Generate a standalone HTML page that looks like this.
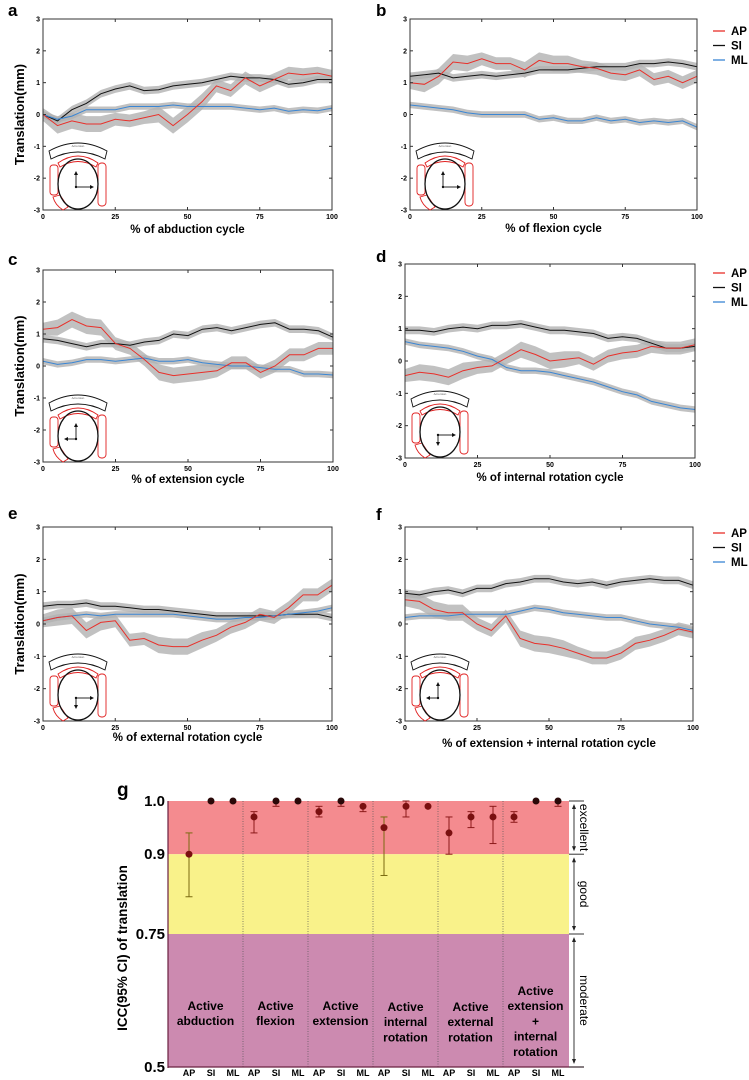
<!DOCTYPE html>
<html><head><meta charset="utf-8"><style>
html,body{margin:0;padding:0;background:#fff;width:749px;height:1080px;overflow:hidden}
svg{display:block;font-family:"Liberation Sans",Arial,sans-serif}
</style></head><body>
<svg id="fig" width="749" height="1080" viewBox="0 0 749 1080"></svg>
<script>
const pct = [0,5,10,15,20,25,30,35,40,45,50,55,60,65,70,75,80,85,90,95,100];
const yTicks = [3,2,1,0,-1,-2,-3];
const xTicks = [0,25,50,75,100];
// panel a (abduction)
const aAP = [0,-0.35,-0.2,-0.3,-0.3,-0.15,-0.2,-0.1,0,-0.35,0,0.4,0.9,0.75,1.15,0.9,1.1,1.3,1.25,1.3,1.2];
const aSI = [0,-0.2,0.15,0.35,0.65,0.8,0.9,0.75,0.78,0.9,0.95,1.0,1.1,1.2,1.15,1.15,1.1,0.95,1.0,1.1,1.1];
const aML = [0,-0.15,-0.05,0.15,0.15,0.15,0.25,0.25,0.25,0.3,0.25,0.25,0.25,0.25,0.2,0.15,0.2,0.1,0.15,0.12,0.2];
// panel b (flexion)
const bAP = [1.0,0.95,1.2,1.65,1.6,1.75,1.6,1.6,1.4,1.7,1.6,1.6,1.5,1.45,1.3,1.25,1.4,1.1,1.2,1.0,1.2];
const bSI = [1.2,1.25,1.3,1.15,1.2,1.25,1.2,1.25,1.3,1.4,1.4,1.4,1.45,1.5,1.5,1.5,1.6,1.6,1.65,1.6,1.5];
const bML = [0.3,0.25,0.2,0.15,0.05,0,0,0,0,-0.15,-0.1,-0.2,-0.2,-0.1,-0.2,-0.15,-0.25,-0.2,-0.25,-0.2,-0.4];
// panel c (extension)
const cAP = [1.15,1.2,1.45,1.25,1.2,0.7,0.55,0.2,-0.2,-0.3,-0.25,-0.2,-0.15,0.1,0.1,-0.2,0.0,0.35,0.35,0.55,0.55];
const cSI = [0.85,0.8,0.7,0.6,0.7,0.7,0.65,0.75,0.8,1.0,0.95,1.15,1.2,1.1,1.2,1.3,1.35,1.15,1.15,1.1,0.9];
const cML = [0.15,0.05,0.1,0.2,0.2,0.15,0.2,0.25,0.15,0.15,0.2,0.1,0.05,0.0,0.0,-0.05,-0.1,-0.1,-0.25,-0.25,-0.28];
// panel d (internal rotation)
const dAP = [-0.45,-0.35,-0.4,-0.5,-0.3,-0.2,-0.15,0.1,0.35,0.2,0.0,0.05,0.1,-0.1,0.15,0.25,0.3,0.45,0.4,0.4,0.5];
const dSI = [0.95,0.95,0.9,1.0,1.05,1.0,1.1,1.1,1.15,1.05,0.95,0.95,0.9,0.85,0.7,0.75,0.7,0.55,0.4,0.4,0.45];
const dML = [0.6,0.5,0.45,0.4,0.3,0.15,0.05,-0.2,-0.3,-0.3,-0.35,-0.45,-0.55,-0.65,-0.8,-0.95,-1.05,-1.25,-1.35,-1.45,-1.5];
// panel e (external rotation)
const eAP = [0.1,0.2,0.25,-0.2,0.05,0.1,-0.5,-0.45,-0.65,-0.7,-0.7,-0.5,-0.35,-0.1,0.05,0.3,0.2,0.5,0.9,0.9,1.2];
const eSI = [0.55,0.6,0.6,0.65,0.55,0.55,0.5,0.45,0.45,0.4,0.35,0.3,0.25,0.25,0.25,0.25,0.25,0.3,0.3,0.3,0.2];
const eML = [0.1,0.2,0.25,0.3,0.25,0.3,0.3,0.3,0.3,0.3,0.25,0.2,0.15,0.15,0.2,0.2,0.25,0.3,0.35,0.4,0.5];
// panel f (extension + internal rotation)
const fAP = [0.75,0.7,0.45,0.35,0.35,0.0,-0.2,0.25,-0.45,-0.6,-0.65,-0.75,-0.9,-1.05,-1.05,-0.9,-0.6,-0.5,-0.35,-0.15,-0.25];
const fSI = [0.95,0.9,1.0,1.05,0.95,1.1,1.1,1.25,1.3,1.4,1.4,1.3,1.25,1.3,1.2,1.3,1.35,1.4,1.35,1.35,1.2];
const fML = [0.2,0.25,0.25,0.25,0.3,0.3,0.3,0.3,0.4,0.5,0.45,0.35,0.3,0.25,0.2,0.2,0.1,0.0,-0.05,-0.1,-0.2];
// band half widths (SD)
const bandAP = [0.2,0.25,0.25,0.25,0.25,0.2,0.2,0.2,0.25,0.25,0.25,0.25,0.2,0.2,0.2,0.2,0.2,0.2,0.2,0.2,0.2];
const bandSI = [0.12,0.12,0.12,0.12,0.12,0.12,0.12,0.12,0.12,0.12,0.12,0.12,0.12,0.12,0.12,0.12,0.12,0.12,0.12,0.12,0.12];
const bandML = [0.1,0.1,0.1,0.1,0.1,0.1,0.1,0.1,0.1,0.1,0.1,0.1,0.1,0.1,0.1,0.1,0.1,0.1,0.1,0.1,0.1];
// panel g ICC
const gGroups = [["Active","abduction"],["Active","flexion"],["Active","extension"],["Active","internal","rotation"],["Active","external","rotation"],["Active","extension","+","internal","rotation"]];
const gAxes = ["AP","SI","ML"];
const iccMean = [0.90,1.0,1.0, 0.97,1.0,1.0, 0.98,1.0,0.99, 0.95,0.99,0.99, 0.94,0.97,0.97, 0.97,1.0,1.0];
const iccLo   = [0.82,1.0,1.0, 0.94,0.99,1.0, 0.97,0.99,0.98, 0.86,0.97,0.99, 0.90,0.95,0.92, 0.96,1.0,0.99];
const iccHi   = [0.94,1.0,1.0, 0.98,1.0,1.0, 0.99,1.0,0.99, 0.97,1.0,0.99, 0.97,0.98,0.99, 0.98,1.0,1.0];
const iccTicks = [1.0,0.9,0.75,0.5];
const iccTickLabels = ["1.0","0.9","0.75","0.5"];

const NS="http://www.w3.org/2000/svg";
const svg=document.getElementById('fig');
function mk(tag,attrs,parent){const e=document.createElementNS(NS,tag);for(const k in attrs)e.setAttribute(k,attrs[k]);(parent||svg).appendChild(e);return e;}
function txt(s,attrs,parent){const e=mk('text',attrs,parent);e.textContent=s;return e;}

const panels=[
 {id:'a',x0:43,x1:332,y0:19,y1:210,ap:aAP,si:aSI,ml:aML,title:'% of abduction cycle',ty:233,lab:[8,16],ylab:true,arrows:['u','r']},
 {id:'b',x0:410,x1:697,y0:19,y1:210,ap:bAP,si:bSI,ml:bML,title:'% of flexion cycle',ty:232,lab:[376,16],legend:[713,31],arrows:['u','r']},
 {id:'c',x0:43,x1:333,y0:270,y1:462,ap:cAP,si:cSI,ml:cML,title:'% of extension cycle',ty:483,lab:[8,265],ylab:true,arrows:['u','l']},
 {id:'d',x0:405,x1:695,y0:264,y1:458,ap:dAP,si:dSI,ml:dML,title:'% of internal rotation cycle',ty:481,lab:[376,262],legend:[713,273],arrows:['d','r']},
 {id:'e',x0:43,x1:332,y0:527,y1:721,ap:eAP,si:eSI,ml:eML,title:'% of external rotation cycle',ty:741,lab:[8,519],ylab:true,arrows:['d','r']},
 {id:'f',x0:405,x1:693,y0:527,y1:721,ap:fAP,si:fSI,ml:fML,title:'% of extension + internal rotation cycle',ty:747,lab:[376,520],legend:[713,533],arrows:['u','l']}
];

panels.forEach(p=>{
  const g=mk('g',{});
  
  
  const X=v=>p.x0+(v/100)*(p.x1-p.x0);
  const Y=v=>p.y0+(3-v)/6*(p.y1-p.y0);
  [[p.si,bandSI],[p.ap,bandAP],[p.ml,bandML]].forEach(([s,b],k)=>{
    let d='';
    pct.forEach((x,i)=>{d+=(i?'L':'M')+X(x).toFixed(1)+','+Y(s[i]+b[i]).toFixed(1);});
    for(let i=pct.length-1;i>=0;i--)d+='L'+X(pct[i]).toFixed(1)+','+Y(s[i]-b[i]).toFixed(1);
    const band=mk('path',{d:d+'Z',fill:'#b2b2b2','fill-opacity':'0.8',stroke:'none'},g);
    
    
  });
  [[p.si,'#111'],[p.ml,'#3a86d4'],[p.ap,'#e8302a']].forEach(([s,c],k)=>{
    const pts=pct.map((x,i)=>X(x).toFixed(1)+','+Y(s[i]).toFixed(1)).join(' ');
    const l=mk('polyline',{points:pts,fill:'none',stroke:c,'stroke-width':1},g);
    
    
  });
  const fr=mk('rect',{x:p.x0,y:p.y0,width:p.x1-p.x0,height:p.y1-p.y0,fill:'none',stroke:'#333','stroke-width':1},g);
  
  
  yTicks.forEach(t=>{
    mk('line',{x1:p.x0,x2:p.x0+3,y1:Y(t),y2:Y(t),stroke:'#333'},g);
    mk('line',{x1:p.x1,x2:p.x1-3,y1:Y(t),y2:Y(t),stroke:'#333'},g);
    const tl=txt(String(t),{x:p.x0-3,y:Y(t)+2.5,'font-size':7,'font-weight':'bold','text-anchor':'end'},g);
    
    
  });
  xTicks.forEach(t=>{
    mk('line',{x1:X(t),x2:X(t),y1:p.y1,y2:p.y1-3,stroke:'#333'},g);
    mk('line',{x1:X(t),x2:X(t),y1:p.y0,y2:p.y0+3,stroke:'#333'},g);
    const tl=txt(String(t),{x:X(t),y:p.y1+9,'font-size':7,'font-weight':'bold','text-anchor':'middle'},g);
    
    
  });
  const tt=txt(p.title,{x:(p.x0+p.x1)/2,y:p.ty,'font-size':11.5,'font-weight':'bold','text-anchor':'middle'},g);
  
  
  const pl=txt(p.id,{x:p.lab[0],y:p.lab[1],'font-size':17,'font-weight':'bold'},g);
  
  
  if(p.ylab){
    const yc=(p.y0+p.y1)/2;
    const yt=txt('Translation(mm)',{x:24,y:yc,'font-size':13,'font-weight':'bold','text-anchor':'middle',transform:'rotate(-90 24 '+yc+')'},g);
    
    
  }
  if(p.legend){
    [['AP','#e8302a'],['SI','#111'],['ML','#3a86d4']].forEach(([n,c],i)=>{
      const lg=mk('g',{},g);
      
      
      const yy=p.legend[1]+i*14.5;
      mk('line',{x1:p.legend[0],x2:p.legend[0]+12,y1:yy,y2:yy,stroke:c,'stroke-width':1.3},lg);
      txt(n,{x:p.legend[0]+18,y:yy+4,'font-size':11.5,'font-weight':'bold'},lg);
    });
  }
  const ig=mk('g',{transform:'translate('+(p.x0+6)+','+(p.y1-71)+')'},g);
  
  
  mk('path',{d:'M0,12 Q29,-4 58,12 L56,20 Q29,6 2,20 Z',fill:'#fff',stroke:'#111','stroke-width':0.9},ig);
  txt('Acromion',{x:29,y:8,'font-size':3,'text-anchor':'middle',fill:'#555'},ig);
  mk('path',{d:'M9,24 Q29,10 49,24 L47,28 Q29,17 11,28 Z',fill:'none',stroke:'#e02020','stroke-width':0.9},ig);
  mk('rect',{x:1,y:26,width:8,height:30,rx:3,fill:'none',stroke:'#e02020','stroke-width':0.9},ig);
  mk('rect',{x:49,y:24,width:8,height:43,rx:3.5,fill:'none',stroke:'#e02020','stroke-width':0.9},ig);
  mk('path',{d:'M4,58 L11,56 L19,68 L14,71 Q6,66 4,58 Z',fill:'none',stroke:'#e02020','stroke-width':0.9},ig);
  mk('ellipse',{cx:29,cy:45,rx:20,ry:25,fill:'none',stroke:'#111','stroke-width':1.3},ig);
  const cx=27,cy=48;
  mk('circle',{cx:cx,cy:cy,r:1.2,fill:'#111'},ig);
  p.arrows.forEach(a=>{
    const dx={u:0,d:0,l:-1,r:1}[a], dy={u:-1,d:1,l:0,r:0}[a];
    const L=a==='r'?16:(a==='l'?10:(a==='u'?14:9));
    const ex=cx+dx*L, ey=cy+dy*L;
    mk('line',{x1:cx,y1:cy,x2:ex,y2:ey,stroke:'#111','stroke-width':0.9},ig);
    const px=-dy,py=dx;
    mk('path',{d:`M${ex+dx*2},${ey+dy*2} L${ex-dx*2+px*2},${ey-dy*2+py*2} L${ex-dx*2-px*2},${ey-dy*2-py*2} Z`,fill:'#111'},ig);
  });
});

// ===== panel g =====
const gx0=168,gx1=569;
const GY=v=>801+(1-v)*532;
const GX=(i)=>178+Math.floor(i/3)*65+11+(i%3)*22;
const pg=mk('g',{});


[[1.0,0.9,'#f48b8f','excellent-zone'],[0.9,0.75,'#f9f28a','good-zone'],[0.75,0.5,'#cc8ab0','moderate-zone']].forEach(([a,b,c,n])=>{
  const r=mk('rect',{x:gx0,y:GY(a),width:gx1-gx0,height:GY(b)-GY(a),fill:c},pg);
  
  
});
for(let k=1;k<6;k++){
  const xd=178+k*65;
  mk('line',{x1:xd,x2:xd,y1:GY(1),y2:GY(0.5),stroke:'#555','stroke-width':0.7,'stroke-dasharray':'1,1.5'},pg);
}
mk('line',{x1:gx0,x2:gx0,y1:GY(1),y2:GY(0.5)+1,stroke:'#6a2040','stroke-width':1.2},pg);
mk('line',{x1:gx0,x2:gx1+15,y1:GY(0.5),y2:GY(0.5),stroke:'#6a2040','stroke-width':1.2},pg);
iccTicks.forEach((t,i)=>{
  const tl=txt(iccTickLabels[i],{x:gx0-3,y:GY(t)+5,'font-size':15,'font-weight':'bold','text-anchor':'end'},pg);
  
  
});
const gyt=txt('ICC(95% CI) of translation',{x:127,y:948,'font-size':13.5,'font-weight':'bold','text-anchor':'middle',transform:'rotate(-90 127 948)'},pg);


iccMean.forEach((m,i)=>{
  const x=GX(i);
  const eg=mk('g',{},pg);
  
  
  const col=iccLo[i]<0.9?'#7a6a10':'#8b1a1a';
  if(iccHi[i]-iccLo[i]>0.001){
    mk('line',{x1:x,x2:x,y1:GY(iccHi[i]),y2:GY(iccLo[i]),stroke:col,'stroke-width':1},eg);
    mk('line',{x1:x-3.5,x2:x+3.5,y1:GY(iccHi[i]),y2:GY(iccHi[i]),stroke:col,'stroke-width':1},eg);
    mk('line',{x1:x-3.5,x2:x+3.5,y1:GY(iccLo[i]),y2:GY(iccLo[i]),stroke:col,'stroke-width':1},eg);
  }
  mk('circle',{cx:x,cy:GY(m),r:3.5,fill:m>=0.999?'#2a0808':'#7a1010'},eg);
  const cl=txt(gAxes[i%3],{x:x,y:1076,'font-size':9,'font-weight':'bold','text-anchor':'middle'},pg);
  
  
});
gGroups.forEach((lines,k)=>{
  const cxg=k===0?(gx0+243)/2:178+k*65+32.5;
  const n=lines.length;
  const start=n===2?1010:(n===3?1011:995);
  const gt=mk('text',{x:cxg,'font-size':12,'font-weight':'bold','text-anchor':'middle'},pg);
  
  
  lines.forEach((s,j)=>{
    const ts=mk('tspan',{x:cxg,y:start+j*15.2},gt);ts.textContent=s;
  });
});
const ax=574;
const ann=mk('g',{},pg);


[1.0,0.9,0.75,0.5].forEach(v=>mk('line',{x1:gx1,x2:gx1+15,y1:GY(v),y2:GY(v),stroke:'#333','stroke-width':1},ann));
[[1.0,0.9,'excellent'],[0.9,0.75,'good'],[0.75,0.5,'moderate']].forEach(([a,b,n])=>{
  const y1=GY(a)+3,y2=GY(b)-3;
  mk('line',{x1:ax,x2:ax,y1:y1+3,y2:y2-3,stroke:'#222','stroke-width':0.9},ann);
  mk('path',{d:`M${ax},${y1} l-2,5 l4,0 Z`,fill:'#222'},ann);
  mk('path',{d:`M${ax},${y2} l-2,-5 l4,0 Z`,fill:'#222'},ann);
  const ym=(y1+y2)/2;
  const t=txt(n,{x:580,y:ym,'font-size':12,'text-anchor':'middle',transform:'rotate(90 580 '+ym+')'},ann);
  
  
});
const gl=txt('g',{x:117,y:796,'font-size':19,'font-weight':'bold'},pg);


</script>
</body></html>
